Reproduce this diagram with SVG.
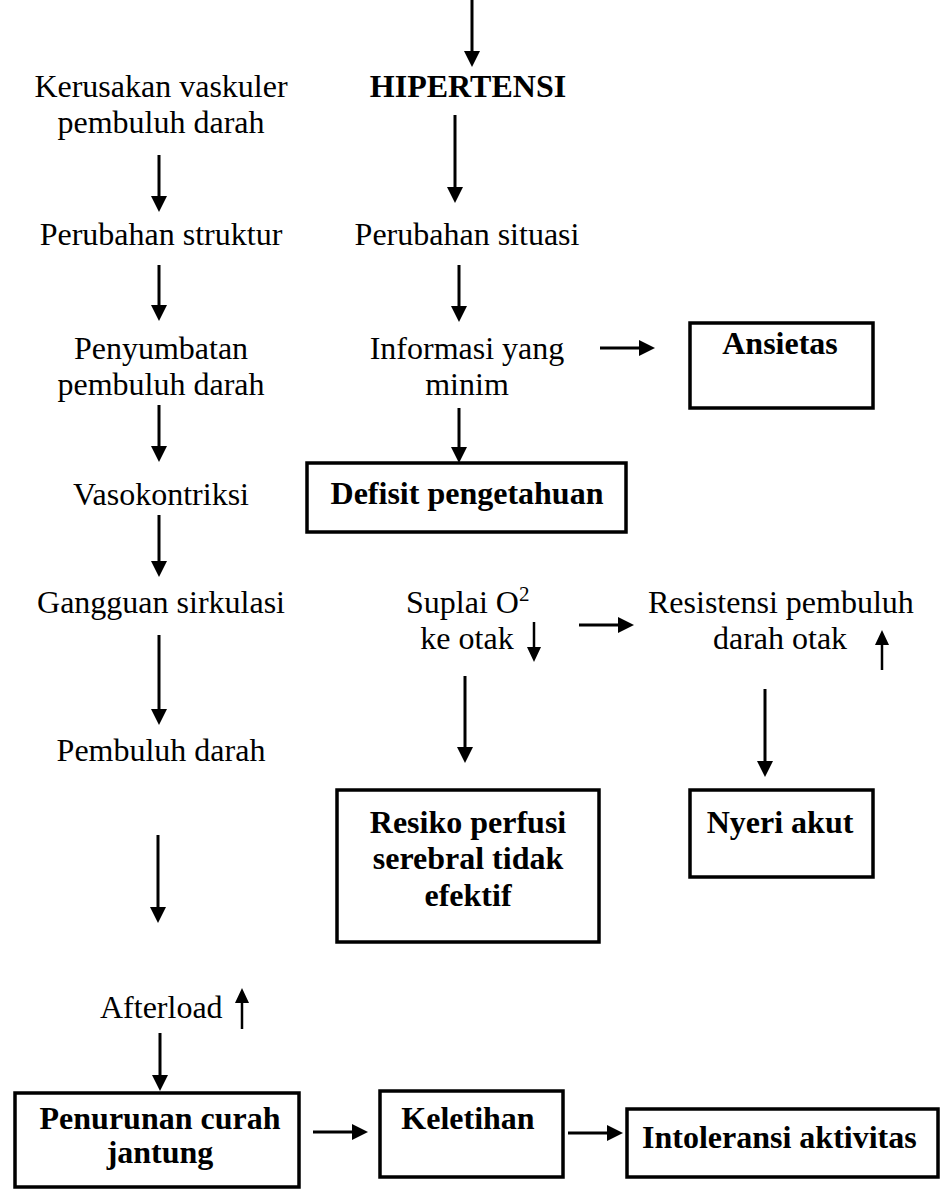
<svg xmlns="http://www.w3.org/2000/svg" width="940" height="1194" viewBox="0 0 940 1194">
<defs>
<style>
text{font-family:"Liberation Serif","Times New Roman",serif;font-size:32px;fill:#000}
.b{font-weight:bold}
.m{text-anchor:middle}
.box{fill:#fff;stroke:#000;stroke-width:3.5}
.c{stroke:#000;stroke-width:3;fill:none;marker-end:url(#ah)}
.s{stroke:#000;stroke-width:2.5;fill:none;marker-end:url(#ahs)}
</style>
<marker id="ah" viewBox="0 0 16 16" refX="0" refY="8" markerWidth="16" markerHeight="16" markerUnits="userSpaceOnUse" orient="auto"><path d="M0,0 L16,8 L0,16 z" fill="#000"/></marker>
<marker id="ahs" viewBox="0 0 15 14" refX="0" refY="7" markerWidth="15" markerHeight="14" markerUnits="userSpaceOnUse" orient="auto"><path d="M0,0 L15,7 L0,14 z" fill="#000"/></marker>
</defs>
<rect width="940" height="1194" fill="#fff"/>
<g id="connectors">
<line class="c" x1="472" y1="0" x2="472" y2="51"/>
<line class="c" x1="159" y1="155" x2="159" y2="196"/>
<line class="c" x1="455" y1="115" x2="455" y2="187"/>
<line class="c" x1="159" y1="265" x2="159" y2="305"/>
<line class="c" x1="459" y1="265" x2="459" y2="306"/>
<line class="c" x1="600" y1="348" x2="639" y2="348"/>
<line class="c" x1="159" y1="405" x2="159" y2="446"/>
<line class="c" x1="459" y1="408" x2="459" y2="447"/>
<line class="c" x1="159" y1="515" x2="159" y2="561"/>
<line class="c" x1="159" y1="635" x2="159" y2="709"/>
<line class="s" x1="534" y1="622" x2="534" y2="647"/>
<line class="c" x1="579" y1="625" x2="618" y2="625"/>
<line class="s" x1="882" y1="670" x2="882" y2="645"/>
<line class="c" x1="465" y1="676" x2="465" y2="747"/>
<line class="c" x1="765" y1="689" x2="765" y2="761"/>
<line class="c" x1="158" y1="835" x2="158" y2="907"/>
<line class="s" x1="242" y1="1029" x2="242" y2="1003"/>
<line class="c" x1="160" y1="1033" x2="160" y2="1075"/>
<line class="c" x1="313" y1="1132" x2="352" y2="1132"/>
<line class="c" x1="568" y1="1133" x2="607" y2="1133"/>
</g>
<g id="hipertensi"><text class="b m" x="468" y="97">HIPERTENSI</text></g>
<g id="kerusakan"><text class="m" x="161" y="97">Kerusakan vaskuler</text><text class="m" x="161" y="133">pembuluh darah</text></g>
<g id="perubahan-struktur"><text class="m" x="161" y="245">Perubahan struktur</text></g>
<g id="perubahan-situasi"><text class="m" x="467" y="245">Perubahan situasi</text></g>
<g id="penyumbatan"><text class="m" x="161" y="359">Penyumbatan</text><text class="m" x="161" y="395">pembuluh darah</text></g>
<g id="informasi"><text class="m" x="467" y="359">Informasi yang</text><text class="m" x="467" y="395">minim</text></g>
<g id="ansietas"><rect class="box" x="690" y="323" width="183" height="85"/><text class="b m" x="780" y="354">Ansietas</text></g>
<g id="vasokontriksi"><text class="m" x="161" y="505">Vasokontriksi</text></g>
<g id="defisit"><rect class="box" x="307" y="463" width="319" height="69"/><text class="b m" x="467" y="504">Defisit pengetahuan</text></g>
<g id="gangguan"><text class="m" x="161" y="613">Gangguan sirkulasi</text></g>
<g id="suplai"><text x="406" y="613">Suplai O<tspan font-size="21" dy="-12">2</tspan></text><text class="m" x="467" y="649">ke otak</text></g>
<g id="resistensi"><text x="648" y="613">Resistensi pembuluh</text><text class="m" x="780" y="649">darah otak</text></g>
<g id="pembuluh"><text class="m" x="161" y="761">Pembuluh darah</text></g>
<g id="resiko"><rect class="box" x="337" y="790" width="262" height="152"/><text class="b m" x="468" y="833">Resiko perfusi</text><text class="b m" x="468" y="869">serebral tidak</text><text class="b m" x="468" y="906">efektif</text></g>
<g id="nyeri"><rect class="box" x="690" y="790" width="183" height="87"/><text class="b m" x="780" y="833">Nyeri akut</text></g>
<g id="afterload"><text x="100" y="1018">Afterload</text></g>
<g id="penurunan"><rect class="box" x="15" y="1093" width="284" height="94"/><text class="b m" x="160" y="1129">Penurunan curah</text><text class="b m" x="160" y="1163">jantung</text></g>
<g id="keletihan"><rect class="box" x="380" y="1091" width="183" height="86"/><text class="b m" x="468" y="1129">Keletihan</text></g>
<g id="intoleransi"><rect class="box" x="627" y="1109" width="311" height="68"/><text class="b" x="642" y="1148">Intoleransi aktivitas</text></g>
</svg>
